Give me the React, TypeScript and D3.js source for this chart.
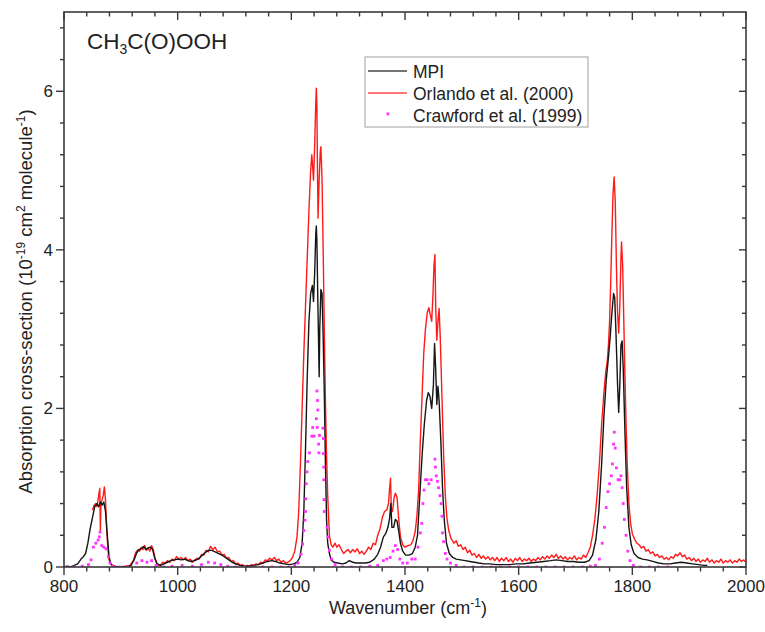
import React from 'react';
import * as d3 from 'd3';

// MPI spectrum [wavenumber, cross-section 1e-19]
const mpi: [number, number][] = [
  [800, 0.0], [806, 0.01], [812, 0.0], [818, 0.02], [824, 0.04], [830, 0.1], [834, 0.13], [838, 0.17],
  [842, 0.3], [846, 0.48], [850, 0.62], [854, 0.76], [858, 0.8], [861, 0.76], [864, 0.82], [867, 0.78],
  [870, 0.82], [873, 0.7], [876, 0.42], [879, 0.15], [882, 0.04], [886, 0.01], [892, 0.0], [900, 0.0],
  [910, 0.0], [918, 0.02], [924, 0.1], [928, 0.18], [932, 0.22], [936, 0.23], [940, 0.26], [944, 0.22],
  [948, 0.24], [952, 0.25], [956, 0.22], [960, 0.1], [964, 0.04], [970, 0.02], [976, 0.04], [982, 0.06],
  [988, 0.08], [994, 0.09], [1000, 0.1], [1006, 0.09], [1012, 0.1], [1018, 0.08], [1024, 0.07], [1030, 0.08],
  [1036, 0.1], [1042, 0.14], [1048, 0.18], [1054, 0.21], [1060, 0.21], [1066, 0.19], [1072, 0.17], [1078, 0.15],
  [1084, 0.12], [1090, 0.09], [1096, 0.06], [1102, 0.04], [1110, 0.02], [1118, 0.01], [1126, 0.01], [1134, 0.02],
  [1142, 0.03], [1150, 0.05], [1158, 0.07], [1166, 0.08], [1172, 0.07], [1180, 0.05], [1188, 0.04], [1196, 0.03],
  [1204, 0.04], [1210, 0.06], [1215, 0.12], [1219, 0.3], [1222, 0.7], [1225, 1.5], [1228, 2.4], [1231, 3.1],
  [1234, 3.45], [1237, 3.55], [1239, 3.35], [1241, 3.7], [1243, 4.2], [1244, 4.3], [1245, 4.1], [1247, 3.2],
  [1249, 2.4], [1250, 3.0], [1252, 3.5], [1254, 3.45], [1256, 2.9], [1258, 2.2], [1260, 1.3], [1262, 0.6],
  [1264, 0.3], [1267, 0.17], [1270, 0.09], [1275, 0.06], [1282, 0.05], [1290, 0.04], [1296, 0.05], [1302, 0.08],
  [1308, 0.06], [1314, 0.05], [1322, 0.05], [1330, 0.05], [1338, 0.06], [1346, 0.1], [1352, 0.16], [1357, 0.25],
  [1362, 0.38], [1366, 0.42], [1370, 0.5], [1373, 0.62], [1375, 0.8], [1377, 0.5], [1380, 0.5], [1383, 0.6],
  [1386, 0.58], [1389, 0.45], [1392, 0.3], [1396, 0.2], [1401, 0.15], [1407, 0.15], [1413, 0.17], [1418, 0.25],
  [1422, 0.4], [1426, 0.9], [1430, 1.4], [1434, 1.8], [1438, 2.1], [1441, 2.2], [1444, 2.15], [1447, 2.0],
  [1450, 2.3], [1452, 2.82], [1454, 2.5], [1456, 2.05], [1458, 2.28], [1460, 2.1], [1463, 1.6], [1466, 1.0],
  [1469, 0.6], [1473, 0.3], [1478, 0.17], [1484, 0.12], [1490, 0.1], [1498, 0.09], [1506, 0.08], [1514, 0.07],
  [1522, 0.06], [1530, 0.05], [1540, 0.04], [1550, 0.04], [1560, 0.03], [1572, 0.03], [1584, 0.03], [1596, 0.04],
  [1608, 0.04], [1620, 0.05], [1632, 0.06], [1644, 0.07], [1656, 0.08], [1666, 0.09], [1676, 0.08], [1686, 0.07],
  [1696, 0.07], [1706, 0.06], [1716, 0.06], [1724, 0.08], [1730, 0.15], [1736, 0.35], [1741, 0.7], [1746, 1.3],
  [1750, 1.9], [1754, 2.35], [1758, 2.65], [1761, 2.9], [1764, 3.2], [1767, 3.45], [1769, 3.4], [1771, 3.0],
  [1774, 2.3], [1776, 1.95], [1778, 2.3], [1780, 2.8], [1782, 2.85], [1784, 2.5], [1787, 1.7], [1790, 1.0],
  [1794, 0.5], [1798, 0.28], [1803, 0.17], [1810, 0.12], [1818, 0.1], [1826, 0.09], [1836, 0.07], [1846, 0.05],
  [1856, 0.04], [1866, 0.04], [1876, 0.05], [1886, 0.06], [1896, 0.05], [1906, 0.04], [1916, 0.03], [1926, 0.02],
  [1932, 0.02],
];

// Orlando et al. (2000)
const orlando: [number, number][] = [
  [850, 0.72], [853, 0.78], [856, 0.8], [858, 0.76], [860, 0.85], [862, 0.95], [863, 0.99], [864, 0.45],
  [865, 0.8], [867, 0.85], [869, 0.9], [871, 1.01], [873, 0.85], [875, 0.5], [877, 0.25], [879, 0.1],
  [882, 0.04], [886, 0.02], [890, 0.01], [894, 0.0], [900, 0.0], [908, 0.01], [916, 0.02], [922, 0.08],
  [926, 0.18], [930, 0.22], [933, 0.2], [936, 0.25], [939, 0.22], [942, 0.27], [945, 0.21], [948, 0.24],
  [951, 0.2], [954, 0.27], [957, 0.22], [960, 0.12], [963, 0.05], [966, 0.02], [970, 0.03], [974, 0.06],
  [978, 0.05], [982, 0.08], [986, 0.06], [990, 0.1], [994, 0.08], [998, 0.13], [1002, 0.1], [1006, 0.12],
  [1010, 0.09], [1014, 0.12], [1018, 0.08], [1022, 0.1], [1026, 0.06], [1030, 0.09], [1034, 0.11], [1038, 0.1],
  [1042, 0.16], [1046, 0.15], [1050, 0.21], [1054, 0.19], [1058, 0.26], [1062, 0.22], [1066, 0.25], [1070, 0.19],
  [1074, 0.2], [1078, 0.15], [1082, 0.16], [1086, 0.11], [1090, 0.12], [1094, 0.07], [1098, 0.08], [1102, 0.04],
  [1106, 0.05], [1110, 0.02], [1114, 0.03], [1118, 0.01], [1122, 0.02], [1126, 0.01], [1130, 0.03], [1134, 0.02],
  [1138, 0.04], [1142, 0.03], [1146, 0.06], [1150, 0.05], [1154, 0.09], [1158, 0.08], [1162, 0.11], [1166, 0.09],
  [1170, 0.12], [1174, 0.08], [1178, 0.1], [1182, 0.06], [1186, 0.08], [1190, 0.05], [1194, 0.06], [1198, 0.08],
  [1202, 0.12], [1206, 0.2], [1210, 0.38], [1213, 0.7], [1216, 1.3], [1219, 2.0], [1222, 2.7], [1225, 3.3],
  [1228, 3.9], [1231, 4.5], [1234, 5.0], [1236, 5.2], [1238, 5.0], [1239, 4.88], [1241, 5.3], [1243, 5.85],
  [1244, 6.04], [1245, 5.8], [1246, 5.0], [1247, 4.4], [1249, 4.9], [1251, 5.25], [1252, 5.3], [1254, 4.9],
  [1256, 4.0], [1258, 3.0], [1260, 2.1], [1262, 1.4], [1264, 0.9], [1267, 0.4], [1270, 0.28], [1273, 0.25],
  [1277, 0.3], [1280, 0.25], [1284, 0.28], [1288, 0.22], [1292, 0.17], [1296, 0.2], [1300, 0.22], [1304, 0.18],
  [1308, 0.22], [1312, 0.19], [1316, 0.23], [1320, 0.17], [1324, 0.2], [1328, 0.16], [1332, 0.2], [1336, 0.25],
  [1340, 0.22], [1344, 0.3], [1348, 0.28], [1352, 0.4], [1356, 0.48], [1360, 0.62], [1364, 0.7], [1368, 0.72],
  [1371, 0.8], [1373, 1.0], [1374.5, 1.12], [1376, 0.72], [1378, 0.7], [1381, 0.88], [1383, 0.93], [1386, 0.88],
  [1389, 0.6], [1392, 0.38], [1396, 0.28], [1400, 0.25], [1405, 0.27], [1410, 0.28], [1414, 0.33], [1418, 0.45],
  [1421, 0.65], [1424, 0.97], [1427, 1.6], [1430, 2.15], [1433, 2.7], [1436, 3.0], [1439, 3.2], [1442, 3.27],
  [1444, 3.2], [1447, 3.1], [1449, 3.4], [1451, 3.8], [1452.7, 3.94], [1454, 3.3], [1456, 2.86], [1458, 3.1],
  [1460, 3.26], [1462, 2.9], [1465, 2.15], [1468, 1.4], [1471, 0.89], [1474, 0.6], [1477, 0.46], [1481, 0.36],
  [1486, 0.3], [1490, 0.33], [1494, 0.26], [1498, 0.28], [1502, 0.22], [1506, 0.25], [1510, 0.18], [1514, 0.21],
  [1518, 0.15], [1522, 0.17], [1526, 0.12], [1530, 0.16], [1534, 0.11], [1538, 0.14], [1542, 0.1], [1546, 0.13],
  [1550, 0.09], [1554, 0.12], [1558, 0.08], [1562, 0.12], [1566, 0.07], [1570, 0.11], [1574, 0.08], [1578, 0.12],
  [1582, 0.07], [1586, 0.1], [1590, 0.06], [1594, 0.11], [1598, 0.08], [1602, 0.12], [1606, 0.07], [1610, 0.1],
  [1614, 0.08], [1618, 0.11], [1622, 0.07], [1626, 0.1], [1630, 0.08], [1634, 0.12], [1638, 0.09], [1642, 0.13],
  [1646, 0.1], [1650, 0.14], [1654, 0.11], [1658, 0.15], [1662, 0.12], [1666, 0.16], [1670, 0.11], [1674, 0.14],
  [1678, 0.1], [1682, 0.13], [1686, 0.09], [1690, 0.12], [1694, 0.1], [1698, 0.14], [1702, 0.09], [1706, 0.12],
  [1710, 0.1], [1714, 0.15], [1718, 0.12], [1722, 0.18], [1726, 0.25], [1730, 0.4], [1734, 0.6], [1738, 0.9],
  [1742, 1.3], [1746, 1.8], [1750, 2.2], [1753, 2.45], [1756, 2.6], [1758, 2.8], [1760, 3.1], [1762, 3.6],
  [1764, 4.2], [1766, 4.7], [1768, 4.92], [1770, 4.6], [1772, 3.8], [1774, 3.2], [1776, 2.95], [1778, 3.3],
  [1780, 3.9], [1781, 4.1], [1783, 3.8], [1785, 3.1], [1787, 2.4], [1789, 1.8], [1791, 1.3], [1794, 0.8],
  [1797, 0.55], [1800, 0.42], [1804, 0.35], [1808, 0.3], [1812, 0.28], [1816, 0.24], [1820, 0.26], [1824, 0.2],
  [1828, 0.22], [1832, 0.17], [1836, 0.19], [1840, 0.14], [1844, 0.16], [1848, 0.12], [1852, 0.14], [1856, 0.1],
  [1860, 0.12], [1864, 0.09], [1868, 0.13], [1872, 0.11], [1876, 0.16], [1880, 0.14], [1884, 0.18], [1888, 0.13],
  [1892, 0.15], [1896, 0.1], [1900, 0.12], [1904, 0.08], [1908, 0.11], [1912, 0.07], [1916, 0.1], [1920, 0.06],
  [1924, 0.09], [1928, 0.07], [1932, 0.11], [1936, 0.06], [1940, 0.09], [1944, 0.05], [1948, 0.08], [1952, 0.06],
  [1956, 0.1], [1960, 0.05], [1964, 0.08], [1968, 0.06], [1972, 0.09], [1976, 0.05], [1980, 0.08], [1984, 0.06],
  [1988, 0.1], [1992, 0.07], [1996, 0.09], [2000, 0.06],
];

// Crawford et al. (1999), plotted as dots
const crawford: [number, number][] = [
  [804, 0], [818, 0], [832, 0.01], [843, 0.03], [847.6, 0.09], [851.7, 0.25], [856, 0.3], [860, 0.34],
  [863.4, 0.44], [862, 0.38], [866.4, 0.27], [870, 0.25], [874, 0.23], [878, 0.13], [881, 0.05], [886, 0.01],
  [898, 0], [912, 0], [928, 0.05], [937, 0.08], [946, 0.06], [954, 0.08], [962, 0.02], [976, 0], [990, 0.01],
  [1008, 0.02], [1026, 0.01], [1042, 0.03], [1054, 0.06], [1065, 0.05], [1076, 0.03], [1088, 0.01], [1102, 0],
  [1118, 0], [1134, 0], [1150, 0], [1166, 0], [1182, 0], [1196, 0], [1206, 0.02], [1212, 0.05], [1217, 0.16],
  [1220, 0.29], [1222, 0.46], [1224, 0.59], [1225, 0.7], [1225.6, 0.86], [1226.2, 1.05], [1227.6, 1.2],
  [1229, 1.33], [1232, 1.44], [1236, 1.65], [1237.6, 1.76], [1240, 1.65], [1244, 1.87], [1245, 2.22],
  [1246, 2.1], [1246.6, 1.98], [1245.5, 1.76], [1248, 1.55], [1248.5, 1.44], [1249.5, 1.66], [1255.6, 1.75],
  [1256.2, 1.62], [1256.4, 1.43], [1257, 1.26], [1257.2, 1.1], [1257.5, 0.85], [1258, 0.7], [1263, 0.5],
  [1264.5, 0.38], [1267, 0.21], [1271, 0.1], [1277, 0.03], [1290, 0], [1306, 0], [1322, 0], [1338, 0.01],
  [1352, 0.02], [1362, 0.08], [1368, 0.1], [1374, 0.12], [1379, 0.2], [1383, 0.27], [1387, 0.22], [1391, 0.1],
  [1396, 0.05], [1404, 0.05], [1412, 0.1], [1418, 0.1], [1423, 0.25], [1427, 0.43], [1429.5, 0.55],
  [1431.5, 0.8], [1433.5, 0.97], [1436, 1.1], [1439, 1.1], [1442, 1.05], [1446, 1.1], [1452.7, 1.36],
  [1453.5, 1.26], [1455, 1.15], [1457, 1.08], [1459, 1.0], [1461.5, 0.9], [1463.5, 0.8], [1465, 0.64],
  [1466, 0.43], [1468, 0.32], [1471, 0.17], [1474, 0.1], [1480, 0.05], [1490, 0.02], [1504, 0], [1520, 0],
  [1536, 0], [1552, 0], [1568, 0], [1584, 0], [1600, 0], [1616, 0], [1632, 0], [1648, 0], [1664, 0],
  [1680, 0], [1696, 0], [1712, 0], [1726, 0.01], [1735, 0.02], [1742, 0.1], [1747, 0.3], [1751, 0.5],
  [1754, 0.75], [1757, 0.95], [1760, 1.05], [1763, 1.15], [1765, 1.3], [1767, 1.55], [1768.2, 1.7],
  [1770, 1.5], [1772, 1.25], [1775, 1.1], [1778, 1.1], [1780, 1.15], [1782, 1.0], [1784, 0.8], [1786, 0.6],
  [1789, 0.4], [1792, 0.2], [1796, 0.08], [1802, 0.02], [1814, 0], [1830, 0], [1846, 0], [1862, 0],
];

const xMajor = [800, 1000, 1200, 1400, 1600, 1800, 2000];
const yMajor = [0, 2, 4, 6];

const W = 765;
const H = 632;
const L = 64;
const R = 746;
const T = 12;
const B = 567;

const axisColor = '#3a3a3a';
const font = 'Arial, "Liberation Sans", Helvetica, sans-serif';

export default function App() {
  const x = d3.scaleLinear().domain([800, 2000]).range([L, R]);
  const y = d3.scaleLinear().domain([0, 7]).range([B, T]);

  const line = d3
    .line<[number, number]>()
    .x((d) => x(d[0]))
    .y((d) => y(d[1]));

  const xMinor = d3.range(800, 2001, 40).filter((v) => v % 200 !== 0);
  const yMinor = d3.range(0, 7.01, 0.4).map((v) => +v.toFixed(1)).filter((v) => v % 2 !== 0);

  return (
    <svg
      width={W}
      height={H}
      style={{ position: 'absolute', left: 0, top: 0, background: '#fff' }}
      fontFamily={font}
    >
      <defs>
        <clipPath id="plot">
          <rect x={L} y={T} width={R - L} height={B - T} />
        </clipPath>
      </defs>

      <g clipPath="url(#plot)">
        <path d={line(orlando) ?? ''} fill="none" stroke="#ff1a1a" strokeWidth={1.4} strokeLinejoin="round" />
        <path d={line(mpi) ?? ''} fill="none" stroke="#151515" strokeWidth={1.4} strokeLinejoin="round" />
        {crawford.map((d, i) => (
          <rect key={i} x={x(d[0]) - 1.4} y={y(d[1]) - 1.4} width={2.8} height={2.8} fill="#ff33ff" />
        ))}
      </g>

      {/* frame */}
      <rect x={L} y={T} width={R - L} height={B - T} fill="none" stroke={axisColor} strokeWidth={1.6} />

      {/* x ticks: bottom outward, top inward */}
      <g stroke={axisColor} strokeWidth={1.4}>
        {xMajor.map((v) => (
          <g key={'xm' + v}>
            <line x1={x(v)} x2={x(v)} y1={B} y2={B + 8} />
            <line x1={x(v)} x2={x(v)} y1={T} y2={T + 8} />
          </g>
        ))}
        {xMinor.map((v) => (
          <g key={'xn' + v}>
            <line x1={x(v)} x2={x(v)} y1={B} y2={B + 4.5} />
            <line x1={x(v)} x2={x(v)} y1={T} y2={T + 4.5} />
          </g>
        ))}
        {yMajor.map((v) => (
          <g key={'ym' + v}>
            <line x1={L - 8} x2={L} y1={y(v)} y2={y(v)} />
            <line x1={R - 7} x2={R} y1={y(v)} y2={y(v)} />
          </g>
        ))}
        {yMinor.map((v) => (
          <g key={'yn' + v}>
            <line x1={L - 4} x2={L} y1={y(v)} y2={y(v)} />
            <line x1={R - 4} x2={R} y1={y(v)} y2={y(v)} />
          </g>
        ))}
      </g>

      {/* tick labels */}
      <g fontSize={17} fill="#222">
        {xMajor.map((v) => (
          <text key={'xl' + v} x={x(v)} y={B + 25} textAnchor="middle">
            {v}
          </text>
        ))}
        {yMajor.map((v) => (
          <text key={'yl' + v} x={L - 11} y={y(v) + 6} textAnchor="end">
            {v}
          </text>
        ))}
      </g>

      {/* axis titles */}
      <text x={(L + R) / 2 + 3} y={614} textAnchor="middle" fontSize={18} fill="#222">
        Wavenumber (cm<tspan dy={-7} fontSize={12}>-1</tspan>
        <tspan dy={7}>)</tspan>
      </text>
      <text
        transform={`translate(32, ${(T + B) / 2 + 12}) rotate(-90)`}
        textAnchor="middle"
        fontSize={18.5}
        fill="#222"
      >
        Absorption cross-section (10<tspan dy={-7} fontSize={12}>-19</tspan>
        <tspan dy={7}> cm</tspan>
        <tspan dy={-7} fontSize={12}>2</tspan>
        <tspan dy={7}> molecule</tspan>
        <tspan dy={-7} fontSize={12}>-1</tspan>
        <tspan dy={7}>)</tspan>
      </text>

      {/* compound label */}
      <text x={87} y={49} fontSize={22.5} fill="#222">
        CH<tspan dy={5} fontSize={14}>3</tspan>
        <tspan dy={-5}>C(O)OOH</tspan>
      </text>

      {/* legend */}
      <g>
        <rect x={365} y={57} width={223} height={70} fill="#fff" stroke="#a0a0a0" strokeWidth={1} />
        <line x1={368} x2={407} y1={71} y2={71} stroke="#444" strokeWidth={1.5} />
        <line x1={368} x2={407} y1={93} y2={93} stroke="#ff4d4d" strokeWidth={1.5} />
        <rect x={386.5} y={112.5} width={2.8} height={2.8} fill="#ff33ff" />
        <g fontSize={17.5} fill="#222">
          <text x={413} y={77.5}>MPI</text>
          <text x={413} y={99.5}>Orlando et al. (2000)</text>
          <text x={413} y={121.5}>Crawford et al. (1999)</text>
        </g>
      </g>
    </svg>
  );
}
